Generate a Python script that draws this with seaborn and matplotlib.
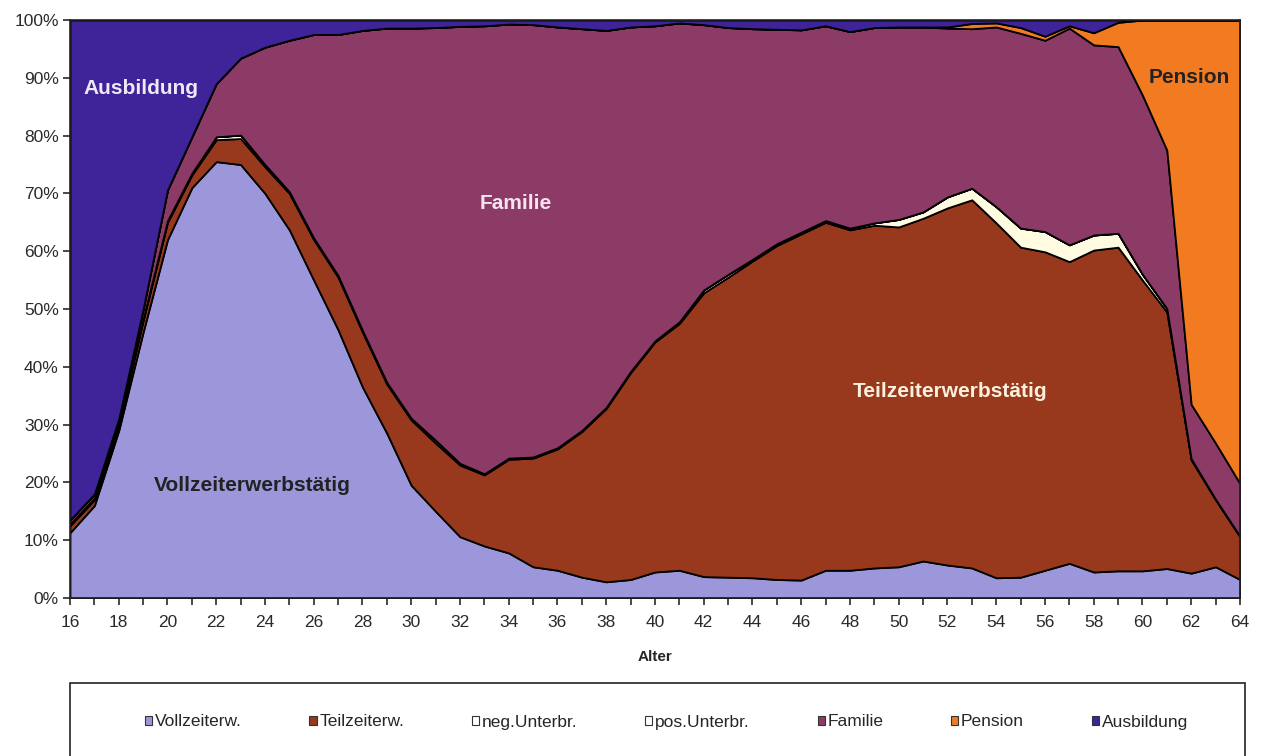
import numpy as np
import pandas as pd
import matplotlib
matplotlib.use("Agg")
import matplotlib.pyplot as plt
from matplotlib.patches import Rectangle, Patch
from matplotlib.ticker import MultipleLocator, PercentFormatter
import seaborn as sns

# %%
# shares (in %) per age
ages = list(range(16, 65))

vollzeit = [11.3, 16, 29, 46, 62, 71, 75.5, 75, 70, 63.7,
            55, 46.4, 36.5, 28.5, 19.5, 15, 10.6, 9, 7.8, 5.4,
            4.8, 3.6, 2.8, 3.2, 4.5, 4.8, 3.7, 3.6, 3.5, 3.2,
            3.1, 4.8, 4.8, 5.2, 5.4, 6.4, 5.7, 5.2, 3.5, 3.6,
            4.8, 6.0, 4.5, 4.7, 4.7, 5.1, 4.3, 5.4, 3.2]
teilzeit = [1.2, 1.0, 1.0, 2.0, 3.0, 2.2, 3.8, 4.5, 4.6, 6.3,
            7.0, 9.1, 9.5, 8.5, 11.3, 11.8, 12.4, 12.3, 16.2, 18.8,
            21.0, 25.2, 30.0, 35.8, 39.8, 42.7, 49.1, 51.9, 54.8, 57.8,
            59.9, 60.2, 58.9, 59.3, 58.8, 59.3, 61.8, 63.7, 61.4, 57.1,
            55.1, 52.2, 55.7, 56.0, 50.3, 44.4, 19.6, 11.6, 7.4]
neg_unterbr = [0.3, 0.3, 0.3, 0.3, 0.3, 0.3, 0.5, 0.6, 0.4, 0.3,
               0.3, 0.3, 0.3, 0.3, 0.3, 0.5, 0.3, 0.2, 0.2, 0.2,
               0.2, 0.2, 0.2, 0.2, 0.2, 0.3, 0.5, 0.5, 0.3, 0.3,
               0.3, 0.3, 0.3, 0.4, 1.3, 1.1, 1.9, 2.0, 2.8, 3.3,
               3.5, 2.9, 2.6, 2.4, 1.0, 0.6, 0.2, 0.1, 0.1]
pos_unterbr = [0.0] * 49
familie = [0.7, 0.7, 0.7, 1.7, 5.3, 6.3, 9.2, 13.3, 20.3, 26.2,
           35.2, 41.7, 51.9, 61.3, 67.5, 71.4, 75.6, 77.5, 75.1, 74.8,
           72.8, 69.5, 65.2, 59.6, 54.5, 51.7, 45.9, 42.7, 39.9, 37.1,
           35.0, 33.7, 34.0, 33.8, 33.3, 32.0, 29.2, 27.6, 31.1, 33.7,
           33.1, 37.5, 32.9, 32.3, 31.0, 27.4, 9.4, 9.7, 9.1]
pension = [0, 0, 0, 0, 0, 0, 0, 0, 0, 0,
           0, 0, 0, 0, 0, 0, 0, 0, 0, 0,
           0, 0, 0, 0, 0, 0, 0, 0, 0, 0,
           0, 0, 0, 0, 0, 0, 0.2, 0.9, 0.7, 1.0,
           0.7, 0.4, 2.1, 4.2, 13.0, 22.5, 66.5, 73.2, 80.2]
ausbildung = [86.5, 82, 69, 50, 29.4, 20.2, 11, 6.6, 4.7, 3.5,
              2.5, 2.5, 1.8, 1.4, 1.4, 1.3, 1.1, 1.0, 0.7, 0.8,
              1.2, 1.5, 1.8, 1.2, 1.0, 0.5, 0.8, 1.3, 1.5, 1.6,
              1.7, 1.0, 2.0, 1.3, 1.2, 1.2, 1.2, 0.6, 0.5, 1.3,
              2.8, 1.0, 2.2, 0.4, 0, 0, 0, 0, 0]

labels = ["Vollzeiterw.", "Teilzeiterw.", "neg.Unterbr.", "pos.Unterbr.",
          "Familie", "Pension", "Ausbildung"]
colors = ["#9b97da", "#98381d", "#fffbe0", "#ffffff",
          "#8c3b66", "#f27a21", "#3e2399"]

df = pd.DataFrame({"Alter": ages, labels[0]: vollzeit, labels[1]: teilzeit,
                   labels[2]: neg_unterbr, labels[3]: pos_unterbr,
                   labels[4]: familie, labels[5]: pension, labels[6]: ausbildung})

# %%
sns.set_theme(style="ticks")
plt.rcParams["font.family"] = ["Liberation Sans", "DejaVu Sans"]

fig = plt.figure(figsize=(12.61, 7.56), dpi=100)
ax = fig.add_axes([0.0555, 0.209, 0.9278, 0.7645])

ax.stackplot(df["Alter"], *[df[c] for c in labels], colors=colors,
             edgecolor="black", linewidth=1.3)

ax.set_xlim(16, 64)
ax.set_ylim(0, 100)
ax.xaxis.set_major_locator(MultipleLocator(2))
ax.xaxis.set_minor_locator(MultipleLocator(1))
ax.yaxis.set_major_locator(MultipleLocator(10))
ax.yaxis.set_major_formatter(PercentFormatter(decimals=0))
ax.tick_params(axis="both", which="major", direction="out", length=5, width=1.2,
               labelsize=12.5, colors="#2a2a2a", pad=3)
ax.tick_params(axis="x", which="major", pad=7)
ax.tick_params(axis="x", which="minor", direction="out", length=5, width=1.2,
               color="#2a2a2a")
ax.set_xlabel("Alter", fontsize=11, fontweight="bold", labelpad=15)
ax.set_ylabel("")
for s in ax.spines.values():
    s.set_color("#222222")
    s.set_linewidth(1.2)

# area labels
lab_kw = dict(fontsize=15, fontweight="bold", ha="center", va="center")
ax.text(18.9, 88.2, "Ausbildung", color="#eeeaf5", **lab_kw)
ax.text(34.3, 68.3, "Familie", color="#f4e4ee", **lab_kw)
ax.text(52.1, 35.8, "Teilzeiterwerbstätig", color="#fbf0dc", **lab_kw)
ax.text(23.47, 19.5, "Vollzeiterwerbstätig", color="#222222", **lab_kw)
ax.text(61.9, 90, "Pension", color="#222222", **lab_kw)

# legend box below the chart
box = Rectangle((70 / 1261, -0.01), 1175 / 1261, 0.01 + (756 - 683) / 756,
                transform=fig.transFigure, fill=False, edgecolor="#222222",
                linewidth=1.2, clip_on=False)
fig.add_artist(box)
handles = [Patch(facecolor=c if c != "#fffbe0" else "#ffffff", edgecolor="#333333",
                 linewidth=0.8) for c in colors]
fig.legend(handles, labels, loc="center", bbox_to_anchor=(0.5285, 1 - 722 / 756),
           ncol=7, frameon=False, fontsize=12.5, handlelength=0.42, handleheight=0.42,
           handletextpad=0.15, columnspacing=3.9)

fig.savefig("out.png", dpi=100)
